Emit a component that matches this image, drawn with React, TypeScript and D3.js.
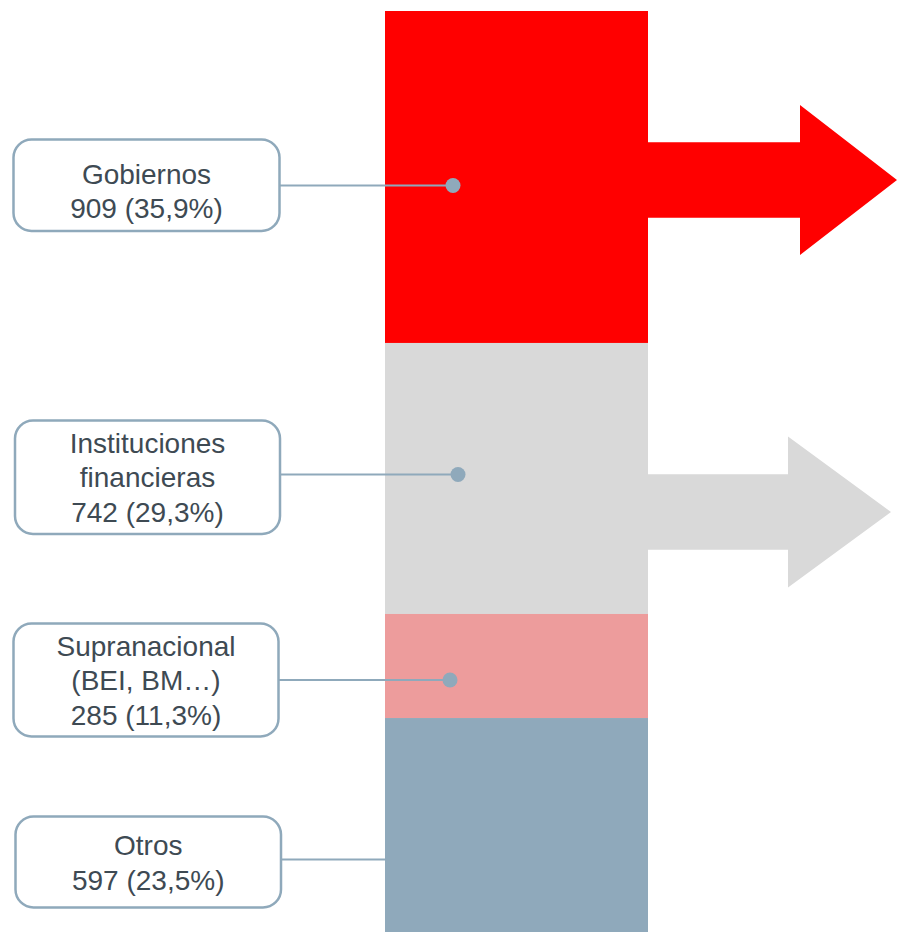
import React from "react";
import * as d3 from "d3";

const categories: string[][] = [
  ["Gobiernos"],
  ["Instituciones", "financieras"],
  ["Supranacional", "(BEI, BM…)"],
  ["Otros"],
];
const values = [909, 742, 285, 597];
const shares = ["35,9%", "29,3%", "11,3%", "23,5%"];
const colors = ["#ff0000", "#d9d9d9", "#ed9c9c", "#8fa9bb"];
const arrowSeries = [0, 1]; // segments with outgoing arrows

// layout
const W = 897;
const H = 932;
const barX0 = 385;
const barX1 = 648;
const barTop = 11;
const pxPerUnit = 0.3652;
const boxes = [
  { x0: 13.5, x1: 279.5, y0: 139.5, y1: 231, dotX: 453, lineY: 185.5, textDy: 5.5 },
  { x0: 15, x1: 280, y0: 420.5, y1: 534, dotX: 458, lineY: 474.5, textDy: 0 },
  { x0: 13.5, x1: 278.5, y0: 623.5, y1: 736.5, dotX: 450, lineY: 680, textDy: 0 },
  { x0: 15.5, x1: 281, y0: 816.5, y1: 907.5, dotX: null as number | null, lineY: 859.5, textDy: 0.5 },
];
const arrows = [
  { cy: 180, shaftH: 75.5, headX: 800, headH: 150, tipX: 897 },
  { cy: 512, shaftH: 75.5, headX: 788, headH: 151, tipX: 891 },
];

const lineColor = "#8fa9bb";
const textColor = "#3e4a53";

export default function App() {
  const total = d3.sum(values);
  const y = d3
    .scaleLinear()
    .domain([0, total])
    .range([barTop, barTop + total * pxPerUnit]);
  const cum = d3.cumsum(values);
  const starts = values.map((v, i) => cum[i] - v);

  const arrowPath = (a: typeof arrows[0]) => {
    const p = d3.path();
    p.moveTo(barX1 - 1, a.cy - a.shaftH / 2);
    p.lineTo(a.headX, a.cy - a.shaftH / 2);
    p.lineTo(a.headX, a.cy - a.headH / 2);
    p.lineTo(a.tipX, a.cy);
    p.lineTo(a.headX, a.cy + a.headH / 2);
    p.lineTo(a.headX, a.cy + a.shaftH / 2);
    p.lineTo(barX1 - 1, a.cy + a.shaftH / 2);
    p.closePath();
    return p.toString();
  };

  return (
    <div style={{ position: "absolute", left: 0, top: 0 }}>
      <svg width={W} height={H} style={{ display: "block" }}>
        <rect width={W} height={H} fill="#ffffff" />
        {values.map((v, i) => (
          <rect
            key={"seg" + i}
            x={barX0}
            width={barX1 - barX0}
            y={y(starts[i])}
            height={y(cum[i]) - y(starts[i])}
            fill={colors[i]}
          />
        ))}
        {arrowSeries.map((s, k) => (
          <path key={"ar" + k} d={arrowPath(arrows[k])} fill={colors[s]} />
        ))}
        {categories.map((lines, i) => {
          const b = boxes[i];
          const allLines = [...lines, `${values[i]} (${shares[i]})`];
          const cx = (b.x0 + b.x1) / 2;
          const cy = (b.y0 + b.y1) / 2;
          const lh = 34.5;
          const firstBase = cy - ((allLines.length - 1) * lh) / 2 + 10 + b.textDy;
          return (
            <g key={"lab" + i}>
              <line
                x1={b.x1}
                x2={b.dotX ?? barX0}
                y1={b.lineY}
                y2={b.lineY}
                stroke={lineColor}
                strokeWidth={2}
              />
              {b.dotX !== null && (
                <circle cx={b.dotX} cy={b.lineY} r={7.5} fill={lineColor} />
              )}
              <rect
                x={b.x0}
                y={b.y0}
                width={b.x1 - b.x0}
                height={b.y1 - b.y0}
                rx={18}
                ry={18}
                fill="#ffffff"
                stroke={lineColor}
                strokeWidth={2.5}
              />
              <text
                x={cx}
                textAnchor="middle"
                fill={textColor}
                fontFamily="'Liberation Sans', Arial, sans-serif"
                fontSize={28}
              >
                {allLines.map((t, j) => (
                  <tspan key={j} x={cx} y={firstBase + j * lh}>
                    {t}
                  </tspan>
                ))}
              </text>
            </g>
          );
        })}
      </svg>
    </div>
  );
}
